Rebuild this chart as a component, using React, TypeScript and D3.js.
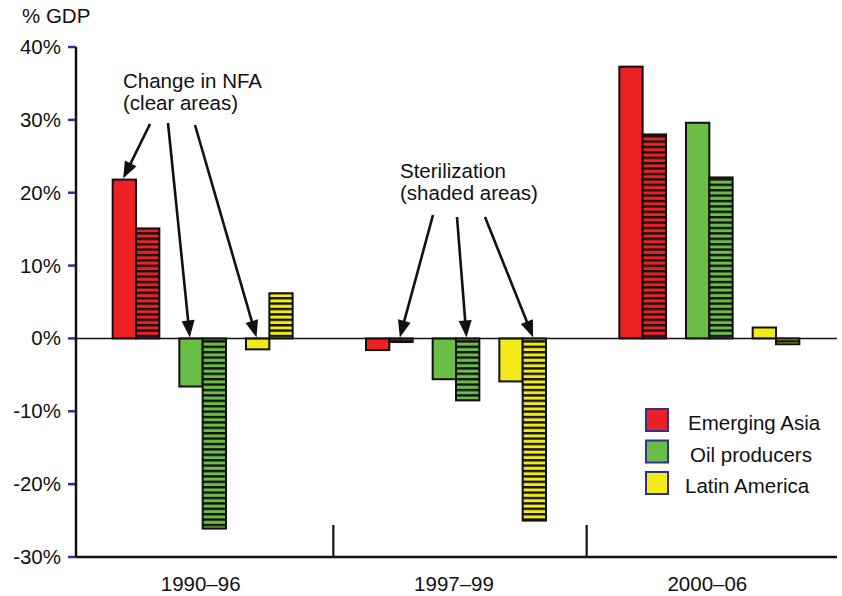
import React from "react";
import * as d3 from "d3";

const categories = ["1990–96", "1997–99", "2000–06"];
const seriesNames = ["Emerging Asia", "Oil producers", "Latin America"];
const seriesColors = ["#ED2024", "#6ABD45", "#F3EA1A"];

// Change in NFA (clear areas), % of GDP, by category
const nfaAsia = [21.8, -1.6, 37.3];
const nfaOil = [-6.6, -5.6, 29.6];
const nfaLatAm = [-1.5, -5.9, 1.5];
// Sterilization (shaded areas), % of GDP, by category
const sterAsia = [15.1, -0.5, 28.0];
const sterOil = [-26.1, -8.5, 22.1];
const sterLatAm = [6.2, -25.0, -0.8];

const yTicks = [-30, -20, -10, 0, 10, 20, 30, 40];
const yTickLabels = ["-30%", "-20%", "-10%", "0%", "10%", "20%", "30%", "40%"];

const nfaValues = [nfaAsia, nfaOil, nfaLatAm];
const sterValues = [sterAsia, sterOil, sterLatAm];

// annotations: target = [categoryIndex, seriesIndex, kind]
const annotations = [
  {
    lines: ["Change in NFA", "(clear areas)"],
    textX: 123,
    textY: 88,
    arrows: [
      { from: [150, 124], cat: 0, ser: 0, kind: "nfa" },
      { from: [168, 123], cat: 0, ser: 1, kind: "nfa" },
      { from: [195, 125], cat: 0, ser: 2, kind: "nfa" },
    ],
  },
  {
    lines: ["Sterilization", "(shaded areas)"],
    textX: 400,
    textY: 178,
    arrows: [
      { from: [433, 215], cat: 1, ser: 0, kind: "ster" },
      { from: [457, 217], cat: 1, ser: 1, kind: "ster" },
      { from: [485, 217], cat: 1, ser: 2, kind: "ster" },
    ],
  },
];

const W = 842;
const H = 596;
const left = 76;
const right = 837;
const top = 47;
const bottom = 557;
const font = "'Liberation Sans', Arial, Helvetica, sans-serif";
const fs = 20.5;

export default function App() {
  const y = d3.scaleLinear().domain([-30, 40]).range([bottom, top]);
  const x = d3.scaleBand<string>().domain(categories).range([left, right - 1]).padding(0);
  const groupW = 180;
  const xs = d3.scaleBand<string>().domain(seriesNames).range([0, groupW]).paddingInner(0.3);
  const barW = xs.bandwidth() / 2;
  const groupStart = (ci: number) => (x(categories[ci]) as number) + (x.bandwidth() - groupW) / 2;
  const barX = (ci: number, si: number, kind: string) =>
    groupStart(ci) + (xs(seriesNames[si]) as number) + (kind === "ster" ? barW : 0);
  const barY = (v: number) => Math.min(y(v), y(0));
  const barH = (v: number) => Math.abs(y(v) - y(0));

  const bars: any[] = [];
  categories.forEach((c, ci) => {
    seriesNames.forEach((s, si) => {
      [["nfa", nfaValues[si][ci]], ["ster", sterValues[si][ci]]].forEach(([kind, v]: any) => {
        bars.push({ ci, si, kind, v });
      });
    });
  });

  const arrowHead = (fx: number, fy: number, tx: number, ty: number) => {
    const len = 17;
    const hw = 6.5;
    const dx = tx - fx;
    const dy = ty - fy;
    const d = Math.hypot(dx, dy);
    const ux = dx / d;
    const uy = dy / d;
    const bx = tx - ux * len;
    const by = ty - uy * len;
    return {
      lineEnd: [bx + ux * 2, by + uy * 2],
      points: `${tx},${ty} ${bx - uy * hw},${by + ux * hw} ${bx + uy * hw},${by - ux * hw}`,
    };
  };

  return (
    <svg
      width={W}
      height={H}
      style={{ position: "absolute", left: 0, top: 0, display: "block", background: "#fff" }}
      fontFamily={font}
    >
      <defs>
        {seriesColors.map((col, i) => (
          <pattern
            key={i}
            id={`stripe${i}`}
            patternUnits="userSpaceOnUse"
            width={8}
            height={5.4}
          >
            <rect x={0} y={0} width={8} height={5.4} fill={col} />
            <rect x={0} y={0} width={8} height={2.4} fill="#111" />
          </pattern>
        ))}
      </defs>

      {/* y label */}
      <text x={22} y={23} fontSize={fs} fill="#111">% GDP</text>

      {/* y ticks */}
      {yTicks.map((t, i) => (
        <g key={t}>
          <line x1={68} x2={left} y1={y(t)} y2={y(t)} stroke="#2E3192" strokeWidth={2.5} />
          <text x={61} y={y(t) + 7} fontSize={fs} textAnchor="end" fill="#111">
            {yTickLabels[i]}
          </text>
        </g>
      ))}

      {/* bars */}
      {bars.map((b, i) => (
        <rect
          key={i}
          x={barX(b.ci, b.si, b.kind)}
          y={barY(b.v)}
          width={barW}
          height={barH(b.v)}
          fill={b.kind === "ster" ? `url(#stripe${b.si})` : seriesColors[b.si]}
          stroke="#111"
          strokeWidth={2}
        />
      ))}

      {/* zero line */}
      <line x1={left} x2={right} y1={y(0)} y2={y(0)} stroke="#111" strokeWidth={1.6} />

      {/* axes */}
      <line x1={left} x2={left} y1={top} y2={bottom} stroke="#111" strokeWidth={2.5} />
      <line x1={left} x2={right} y1={bottom} y2={bottom} stroke="#111" strokeWidth={2.5} />

      {/* group dividers */}
      {categories.slice(1).map((c) => (
        <line
          key={c}
          x1={(x(c) as number) + 4}
          x2={(x(c) as number) + 4}
          y1={bottom}
          y2={bottom - 32}
          stroke="#111"
          strokeWidth={2.2}
        />
      ))}

      {/* category labels */}
      {categories.map((c) => (
        <text
          key={c}
          x={(x(c) as number) + x.bandwidth() / 2 - 2}
          y={591}
          fontSize={fs}
          textAnchor="middle"
          fill="#111"
        >
          {c}
        </text>
      ))}

      {/* annotations */}
      {annotations.map((a, ai) => (
        <g key={ai}>
          {a.lines.map((l, li) => (
            <text key={li} x={a.textX} y={a.textY + li * 22} fontSize={fs} fill="#111">
              {l}
            </text>
          ))}
          {a.arrows.map((ar, ri) => {
            const v = ar.kind === "nfa" ? nfaValues[ar.ser][ar.cat] : sterValues[ar.ser][ar.cat];
            const tx = barX(ar.cat, ar.ser, ar.kind) + barW * 0.45;
            const ty = y(Math.max(v, 0)) - 1;
            const h = arrowHead(ar.from[0], ar.from[1], tx, ty);
            return (
              <g key={ri}>
                <line
                  x1={ar.from[0]}
                  y1={ar.from[1]}
                  x2={h.lineEnd[0]}
                  y2={h.lineEnd[1]}
                  stroke="#111"
                  strokeWidth={2.6}
                />
                <polygon points={h.points} fill="#111" />
              </g>
            );
          })}
        </g>
      ))}

      {/* legend */}
      {seriesNames.map((s, i) => (
        <g key={s}>
          <rect
            x={646}
            y={409 + i * 31.5}
            width={22}
            height={22}
            fill={seriesColors[i]}
            stroke="#2E3192"
            strokeWidth={2}
          />
          <text x={[688, 690, 685][i]} y={430 + i * 31.5} fontSize={fs} fill="#111">
            {s}
          </text>
        </g>
      ))}
    </svg>
  );
}
